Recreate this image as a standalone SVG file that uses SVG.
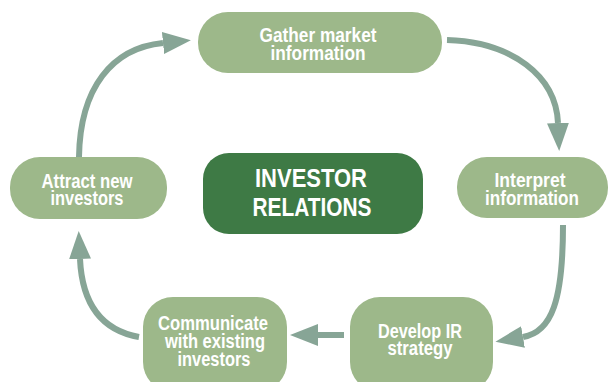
<svg xmlns="http://www.w3.org/2000/svg" width="609" height="382" viewBox="0 0 609 382">
  <style>
    .step { fill: #9db88a; }
    .hub { fill: #3e7a45; }
    .lbl { font-family: "Liberation Sans", Arial, sans-serif; font-weight: bold; font-size: 19.5px; fill: #ffffff; text-anchor: middle; }
    .hubLbl { font-family: "Liberation Sans", Arial, sans-serif; font-weight: bold; font-size: 25.5px; fill: #ffffff; text-anchor: middle; }
    .flow { fill: none; stroke: #87a596; stroke-width: 6; }
  </style>
  <defs>
    <marker id="head" viewBox="0 0 28 22" refX="0" refY="11" markerWidth="28" markerHeight="22" markerUnits="userSpaceOnUse" orient="auto">
      <path d="M0,0 L28,11 L0,22 Z" fill="#87a596"/>
    </marker>
  </defs>

  <rect width="609" height="382" fill="#ffffff"/>

  <g id="connectors">
    <path class="flow" d="M79,157 C80,88 112,48 163,43" marker-end="url(#head)"/>
    <path class="flow" d="M447,40 C512,42 556,76 558,123" marker-end="url(#head)"/>
    <path class="flow" d="M563,225 C563,300 552,332 523,337" marker-end="url(#head)"/>
    <path class="flow" d="M344,335 L318,335" marker-end="url(#head)"/>
    <path class="flow" d="M139,337 C100,330 82,302 80,259" marker-end="url(#head)"/>
  </g>

  <g id="gather">
    <rect class="step" x="198" y="12" width="244" height="61" rx="30"/>
    <text class="lbl" x="318" y="42" textLength="117" lengthAdjust="spacingAndGlyphs">Gather market</text>
    <text class="lbl" x="318" y="60" textLength="95" lengthAdjust="spacingAndGlyphs">information</text>
  </g>

  <g id="interpret">
    <rect class="step" x="457" y="157" width="151" height="61" rx="30"/>
    <text class="lbl" x="530" y="187" textLength="71" lengthAdjust="spacingAndGlyphs">Interpret</text>
    <text class="lbl" x="532" y="205" textLength="94" lengthAdjust="spacingAndGlyphs">information</text>
  </g>

  <g id="develop">
    <rect class="step" x="350" y="297" width="143" height="95" rx="30"/>
    <text class="lbl" x="420" y="338" textLength="84" lengthAdjust="spacingAndGlyphs">Develop IR</text>
    <text class="lbl" x="420" y="355" textLength="65" lengthAdjust="spacingAndGlyphs">strategy</text>
  </g>

  <g id="communicate">
    <rect class="step" x="143" y="297" width="144" height="95" rx="30"/>
    <text class="lbl" x="213" y="330" textLength="110" lengthAdjust="spacingAndGlyphs">Communicate</text>
    <text class="lbl" x="215" y="348" textLength="100" lengthAdjust="spacingAndGlyphs">with existing</text>
    <text class="lbl" x="214" y="366" textLength="73" lengthAdjust="spacingAndGlyphs">investors</text>
  </g>

  <g id="attract">
    <rect class="step" x="10" y="157" width="157" height="62" rx="30"/>
    <text class="lbl" x="87" y="188" textLength="91" lengthAdjust="spacingAndGlyphs">Attract new</text>
    <text class="lbl" x="87" y="205" textLength="73" lengthAdjust="spacingAndGlyphs">investors</text>
  </g>

  <g id="investor-relations">
    <rect class="hub" x="203" y="153" width="220" height="81" rx="26"/>
    <text class="hubLbl" x="311" y="187" textLength="112" lengthAdjust="spacingAndGlyphs">INVESTOR</text>
    <text class="hubLbl" x="312" y="216" textLength="119" lengthAdjust="spacingAndGlyphs">RELATIONS</text>
  </g>
</svg>
